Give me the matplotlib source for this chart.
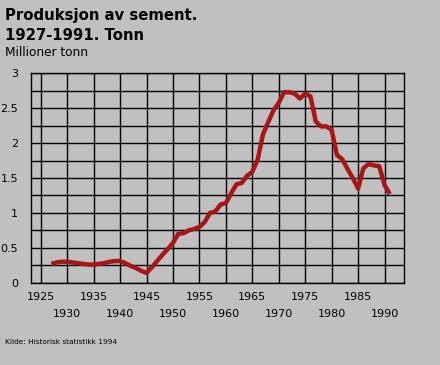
# coding: utf-8
import matplotlib.pyplot as plt

# data: cement production in Norway, million tonnes
years = list(range(1927, 1992))
production = [0.27, 0.29, 0.30, 0.30, 0.29, 0.28, 0.27, 0.26, 0.26, 0.27,
              0.28, 0.30, 0.31, 0.31, 0.28, 0.24, 0.21, 0.17, 0.14, 0.22,
              0.31, 0.40, 0.48, 0.57, 0.70, 0.71, 0.75, 0.77, 0.80, 0.87,
              1.00, 1.02, 1.12, 1.14, 1.28, 1.41, 1.43, 1.53, 1.59, 1.76,
              2.12, 2.30, 2.47, 2.58, 2.73, 2.73, 2.71, 2.64, 2.71, 2.67,
              2.31, 2.24, 2.24, 2.19, 1.83, 1.77, 1.63, 1.50, 1.35, 1.64,
              1.70, 1.68, 1.67, 1.40, 1.27]

xticks_row1 = [1925, 1935, 1945, 1955, 1965, 1975, 1985]
xticks_row2 = [1930, 1940, 1950, 1960, 1970, 1980, 1990]
yticks = [0, 0.5, 1, 1.5, 2, 2.5, 3]
ytick_labels = ['0', '0.5', '1', '1.5', '2', '2.5', '3']
yminor = [0.25, 0.75, 1.25, 1.75, 2.25, 2.75]

bg = '#c0c0c0'

fig = plt.figure(figsize=(4.4, 3.65), dpi=100, facecolor=bg)
ax = fig.add_axes([0.0698, 0.2255, 0.848, 0.5735])
ax.set_facecolor(bg)

ax.plot(years, production, color='#a81616', lw=3.2, solid_capstyle='butt',
        solid_joinstyle='round', zorder=3)

ax.set_xlim(1923.1, 1993.65)
ax.set_ylim(0, 3)

# two rows of year labels
ax.set_xticks(xticks_row1)
ax.set_xticklabels([str(y) for y in xticks_row1])
ax.set_xticks(xticks_row2, minor=True)
ax.set_xticklabels([str(y) for y in xticks_row2], minor=True)
ax.set_yticks(yticks)
ax.set_yticklabels(ytick_labels)
ax.set_yticks(yminor, minor=True)

ax.tick_params(axis='x', which='major', length=0, pad=7, labelsize=8)
ax.tick_params(axis='x', which='minor', length=0, pad=19, labelsize=8)
ax.tick_params(axis='y', which='both', length=0, pad=9, labelsize=8)

ax.grid(True, which='both', color='black', lw=1.0)
for s in ax.spines.values():
    s.set_color('black')
    s.set_linewidth(1.0)

# titles
fig.text(0.011, 0.958, 'Produksjon av sement.', fontsize=10.7, fontweight='bold',
         ha='left', va='center')
fig.text(0.011, 0.903, '1927-1991. Tonn', fontsize=10.7, fontweight='bold',
         ha='left', va='center')
fig.text(0.011, 0.857, 'Millioner tonn', fontsize=8.7, ha='left', va='center')
fig.text(0.011, 0.063, 'Kilde: Historisk statistikk 1994', fontsize=5.3,
         ha='left', va='center')

plt.savefig('out.png', dpi=100, facecolor=bg)
